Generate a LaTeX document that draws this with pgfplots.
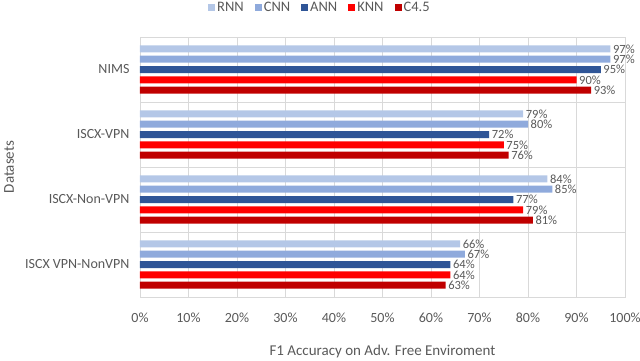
\documentclass[border=0pt]{standalone}
\usepackage{pgfplots}
\pgfplotsset{compat=1.18}
\usepackage{fontspec}
\setmainfont{Carlito}
\usetikzlibrary{calc}
\definecolor{rnn}{RGB}{180,199,231}
\definecolor{cnn}{RGB}{143,170,220}
\definecolor{ann}{RGB}{47,85,151}
\definecolor{knn}{RGB}{255,0,0}
\definecolor{cfour}{RGB}{192,0,0}
\definecolor{txt}{RGB}{89,89,89}
\definecolor{grd}{RGB}{217,217,217}

\begin{document}
\begin{tikzpicture}
\begin{axis}[
    name=ax,
    scale only axis,
    width=485pt, height=260pt,
    xbar,
    bar width=7pt,
    xmin=0, xmax=100,
    xtick={0,10,...,100},
    xticklabel={\pgfmathprintnumber{\tick}\%},
    /pgf/number format/assume math mode=true,
    ymin=-0.5, ymax=3.5,
    y dir=reverse,
    ytick={0,1,2,3},
    yticklabels={NIMS,ISCX-VPN,ISCX-Non-VPN,ISCX VPN-NonVPN},
    minor ytick={0.5,1.5,2.5},
    ymajorgrids=false,
    yminorgrids=true,
    xmajorgrids=true,
    grid style={grd, line width=0.8pt},
    minor grid style={grd, line width=0.8pt},
    major tick length=0pt, minor tick length=0pt,
    axis line style={grd, line width=0.8pt},
    tick label style={font=\fontsize{14}{16}\selectfont, text=txt},
    xticklabel style={yshift=-12pt},
    yticklabel style={xshift=-7pt},
    xlabel={F1 Accuracy on Adv. Free Enviroment},
    ylabel={Datasets},
    label style={font=\fontsize{15}{17}\selectfont, text=txt},
    xlabel style={yshift=-16pt},
    ylabel style={at={(rel axis cs:-0.27,0.5)}, anchor=center},
    nodes near coords={\pgfmathprintnumber{\pgfplotspointmeta}\%},
    nodes near coords align={horizontal},
    every node near coord/.append style={font=\fontsize{12.5}{13}\selectfont, text=txt, inner xsep=2.5pt, inner ysep=0pt},
    legend style={at={(0.371,1.075)}, anchor=south, draw=none, fill=none,
        legend columns=-1, font=\fontsize{14.5}{16}\selectfont, text=txt,
        /tikz/every even column/.append style={column sep=9pt}},
    legend image code/.code={\fill[#1] (0pt,-3.5pt) rectangle (7pt,3.5pt);},
]
\addplot[fill=rnn, draw=none, bar shift=20.6pt] coordinates {(97,0) (79,1) (84,2) (66,3)};
\addplot[fill=cnn, draw=none, bar shift=10.3pt] coordinates {(97,0) (80,1) (85,2) (67,3)};
\addplot[fill=ann, draw=none, bar shift=0pt] coordinates {(95,0) (72,1) (77,2) (64,3)};
\addplot[fill=knn, draw=none, bar shift=-10.3pt] coordinates {(90,0) (75,1) (79,2) (64,3)};
\addplot[fill=cfour, draw=none, bar shift=-20.6pt] coordinates {(93,0) (76,1) (81,2) (63,3)};
\legend{RNN,CNN,ANN,KNN,C4.5}
\end{axis}
\pgfresetboundingbox
\path ($(ax.south west)+(-140pt,-64pt)$) rectangle ($(ax.north east)+(15pt,37pt)$);
\end{tikzpicture}
\end{document}
